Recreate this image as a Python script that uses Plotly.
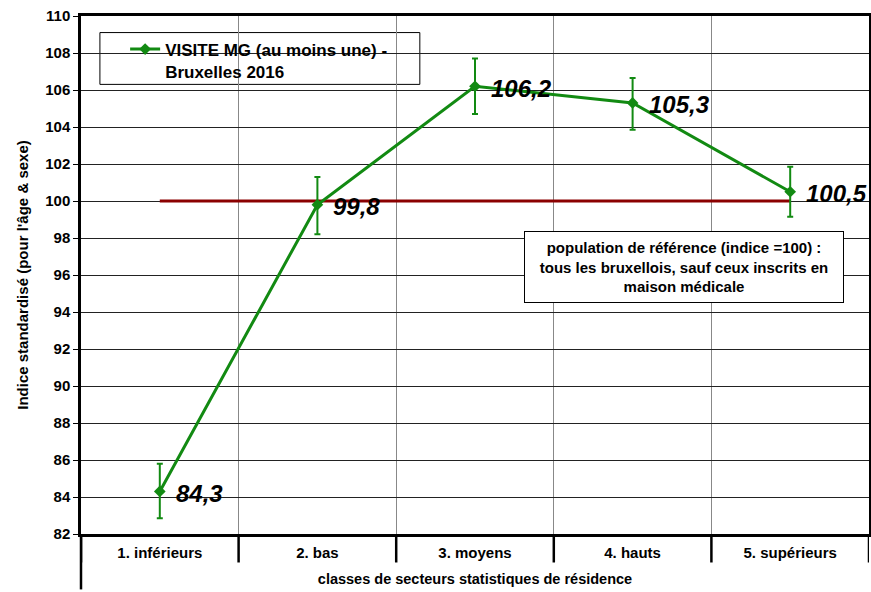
import plotly.graph_objects as go

# data
categories = ["1. inférieurs", "2. bas", "3. moyens", "4. hauts", "5. supérieurs"]
indices = [84.3, 99.8, 106.2, 105.3, 100.5]
err_plus = [1.5, 1.5, 1.5, 1.35, 1.35]
err_minus = [1.45, 1.6, 1.5, 1.45, 1.35]
reference = [100, 100, 100, 100, 100]

GREEN = "#128A12"
DARKRED = "#8B0000"
FONT = "Arial, Liberation Sans, sans-serif"

fig = go.Figure()

# reference population line (indice = 100)
fig.add_trace(go.Scatter(
    x=categories, y=reference, mode="lines",
    line=dict(color=DARKRED, width=3),
    showlegend=False, hoverinfo="skip",
))

fig.add_trace(go.Scatter(
    x=categories, y=indices,
    mode="lines+markers",
    name="VISITE MG (au moins une) -<br>Bruxelles 2016",
    line=dict(color=GREEN, width=3),
    marker=dict(symbol="diamond", size=9, color=GREEN),
    error_y=dict(type="data", symmetric=False, array=err_plus, arrayminus=err_minus,
                 color=GREEN, thickness=2, width=3),
))

# value labels, comma decimal
for cat, v in zip(categories, indices):
    fig.add_annotation(
        x=cat, y=v, xref="x", yref="y",
        text="<b><i>" + f"{v:.1f}".replace(".", ",") + "</i></b>",
        showarrow=False, xanchor="left", xshift=14, yshift=-2,
        font=dict(family=FONT, size=24, color="black"),
    )

# reference population note
fig.add_annotation(
    x=0.765, y=0.515, xref="paper", yref="paper", xanchor="center", yanchor="middle",
    text="population de référence (indice =100) :<br>"
         "tous les bruxellois, sauf ceux inscrits en<br>maison médicale",
    showarrow=False, align="center",
    width=312, height=64, borderpad=3,
    bordercolor="black", borderwidth=1, bgcolor="white",
    font=dict(family=FONT, size=15, color="black", weight="bold"),
)

# legend frame
fig.add_shape(type="rect", xref="paper", yref="paper",
              x0=0.024, x1=0.43, y0=0.868, y1=0.968,
              line=dict(color="black", width=1), fillcolor="white", layer="below")

# category separators below the axis and left axis extension
for i in range(len(categories) + 1):
    fig.add_shape(type="line", xref="x", yref="paper",
                  x0=i - 0.5, x1=i - 0.5, y0=0, y1=-0.055,
                  line=dict(color="black", width=2.5))
fig.add_shape(type="line", xref="paper", yref="paper",
              x0=0, x1=0, y0=0, y1=-0.107, line=dict(color="black", width=2.5))

fig.update_layout(
    width=871, height=592,
    margin=dict(l=81, r=2, t=16, b=58, autoexpand=False),
    paper_bgcolor="white", plot_bgcolor="white",
    font=dict(family=FONT, size=13, color="black"),
    showlegend=True,
    legend=dict(x=0.056, y=0.97, xanchor="left", yanchor="top",
                bgcolor="rgba(0,0,0,0)", borderwidth=0, valign="top",
                font=dict(family=FONT, size=17, color="black", weight="bold"),
                itemwidth=30, tracegroupgap=0),
)
fig.update_xaxes(
    type="category", range=[-0.5, 4.5], automargin=False,
    tickson="boundaries", ticks="", showgrid=True, gridcolor="#888888", gridwidth=1,
    showline=True, linecolor="black", linewidth=2.5, mirror=True,
    tickfont=dict(family=FONT, size=15, color="black", weight="bold"),
    ticklabelstandoff=3,
    title=dict(text="classes de secteurs statistiques de résidence",
               font=dict(family=FONT, size=14.5, color="black", weight="bold"), standoff=15),
)
fig.update_yaxes(
    range=[82, 110], dtick=2, tickformat="d", automargin=False,
    ticks="outside", ticklen=5, tickcolor="black", tickwidth=1,
    showgrid=True, gridcolor="#222222", gridwidth=1, zeroline=False,
    showline=True, linecolor="black", linewidth=2.5, mirror=True,
    tickfont=dict(family=FONT, size=15, color="black", weight="bold"),
    title=dict(text="Indice standardisé (pour l'âge & sexe)",
               font=dict(family=FONT, size=15, color="black", weight="bold"), standoff=13),
)

fig.write_html(
    "out.html",
    config={"responsive": False, "displayModeBar": False},
    post_script="document.body.style.margin='0px'; document.body.style.padding='0px';",
)
